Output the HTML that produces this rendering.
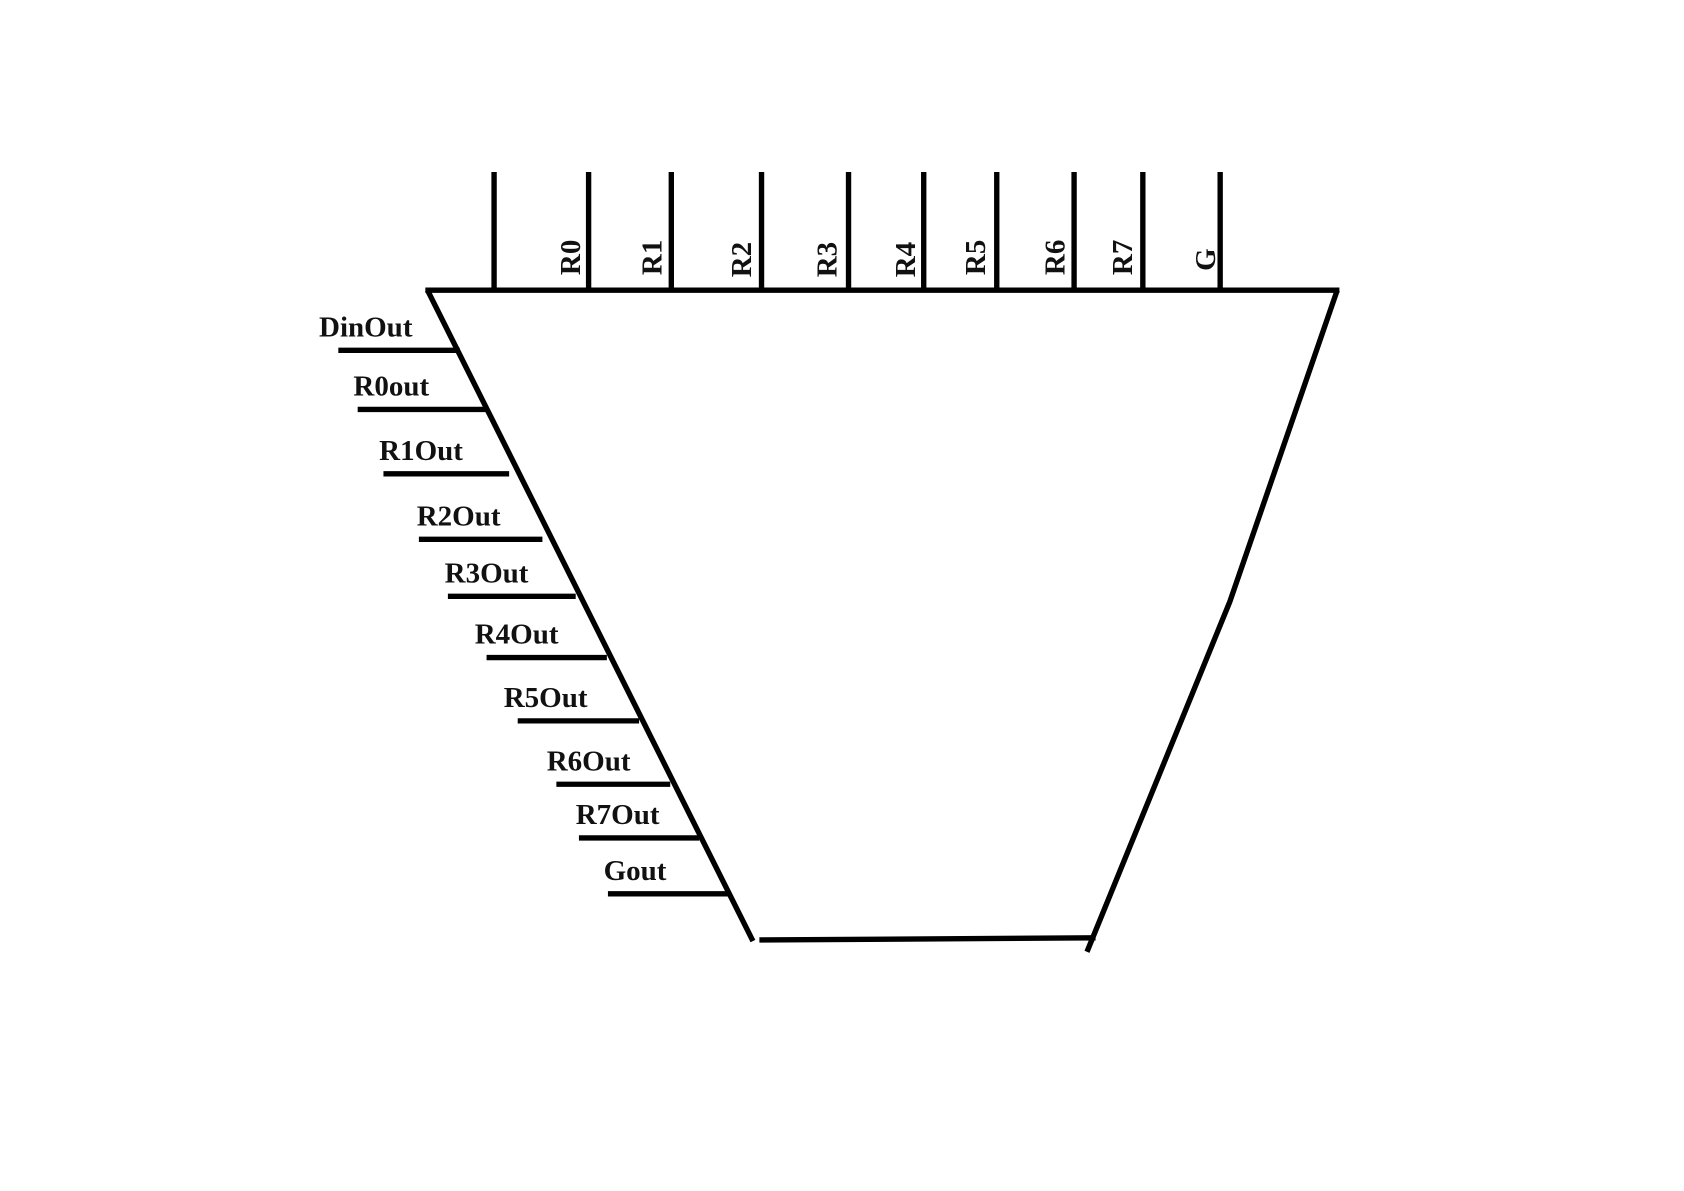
<!DOCTYPE html>
<html><head><meta charset="utf-8"><style>html,body{margin:0;padding:0;background:#fff;}svg{display:block}</style></head>
<body>
<svg width="1684" height="1191" viewBox="0 0 1560 1103" xmlns="http://www.w3.org/2000/svg">
<rect width="1560" height="1103" fill="#fff"/>
<g transform="scale(0.995)">
<g stroke="#000" stroke-width="5" fill="none" stroke-linecap="butt">
<line x1="396" y1="270" x2="1247" y2="270"/>
<line x1="398" y1="270" x2="701" y2="876"/>
<polyline points="1245,270 1145,560 1012,886"/>
<line x1="707" y1="875" x2="1020" y2="873"/>
<line x1="460" y1="160" x2="460" y2="270"/>
<line x1="548" y1="160" x2="548" y2="270"/>
<line x1="625" y1="160" x2="625" y2="270"/>
<line x1="709" y1="160" x2="709" y2="270"/>
<line x1="790" y1="160" x2="790" y2="270"/>
<line x1="860" y1="160" x2="860" y2="270"/>
<line x1="928" y1="160" x2="928" y2="270"/>
<line x1="1000" y1="160" x2="1000" y2="270"/>
<line x1="1064" y1="160" x2="1064" y2="272"/>
<line x1="1136" y1="160" x2="1136" y2="270"/>
<line x1="315" y1="326" x2="428" y2="326"/>
<line x1="333" y1="381" x2="452" y2="381"/>
<line x1="357" y1="441" x2="474" y2="441"/>
<line x1="390" y1="502" x2="505" y2="502"/>
<line x1="417" y1="555" x2="536" y2="555"/>
<line x1="453" y1="612" x2="565" y2="612"/>
<line x1="482" y1="671" x2="595" y2="671"/>
<line x1="518" y1="730" x2="624" y2="730"/>
<line x1="539" y1="780" x2="651" y2="780"/>
<line x1="566" y1="832" x2="678" y2="832"/>
</g>
<g font-family="'Liberation Serif', serif" font-weight="bold" font-size="27" fill="#111">
<text x="297" y="313">DinOut</text>
<text x="329" y="368">R0out</text>
<text x="353" y="428">R1Out</text>
<text x="388" y="489">R2Out</text>
<text x="414" y="542">R3Out</text>
<text x="442" y="599">R4Out</text>
<text x="469" y="658">R5Out</text>
<text x="509" y="717">R6Out</text>
<text x="536" y="767">R7Out</text>
<text x="562" y="819">Gout</text>
<text transform="translate(540,256) rotate(-90)">R0</text>
<text transform="translate(616,256) rotate(-90)">R1</text>
<text transform="translate(699,258) rotate(-90)">R2</text>
<text transform="translate(779,258) rotate(-90)">R3</text>
<text transform="translate(852,258) rotate(-90)">R4</text>
<text transform="translate(917,256) rotate(-90)">R5</text>
<text transform="translate(991,256) rotate(-90)">R6</text>
<text transform="translate(1054,256) rotate(-90)">R7</text>
<text transform="translate(1131,252) rotate(-90)">G</text>
</g>
</g>
</svg>
</body></html>
